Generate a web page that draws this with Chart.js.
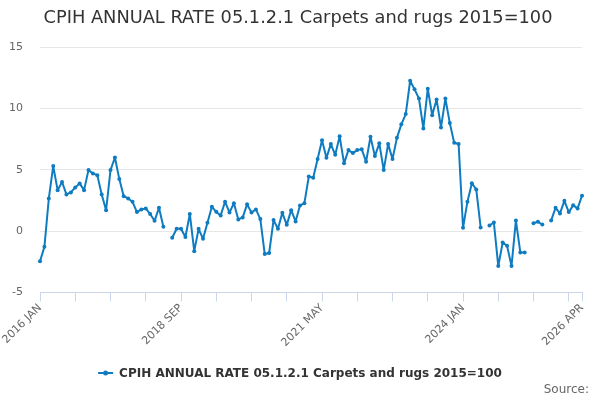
<!DOCTYPE html>
<html>
<head>
<meta charset="utf-8">
<script src="https://cdn.jsdelivr.net/npm/chart.js"></script>
<style>
  body { margin: 0; background: #fff; }
  #wrap { width: 600px; height: 400px; }
</style>
</head>
<body>
<div id="wrap"><canvas id="rateChart" width="600" height="400"></canvas></div>
<script>
const titleText = "CPIH ANNUAL RATE 05.1.2.1 Carpets and rugs 2015=100";
const seriesName = "CPIH ANNUAL RATE 05.1.2.1 Carpets and rugs 2015=100";
const monthNames = ["JAN", "FEB", "MAR", "APR", "MAY", "JUN", "JUL", "AUG", "SEP", "OCT", "NOV", "DEC"];
const startYear = 2016;
const tickLabels = ["2016 JAN", "2018 SEP", "2021 MAY", "2024 JAN", "2026 APR"];
const yTicks = [-5, 0, 5, 10, 15];

const rates = [
  -2.45, -1.28, 2.66, 5.3, 3.34, 4.0, 2.99, 3.15, 3.56, 3.89, 3.34, 4.97,
  4.7, 4.56, 2.99, 1.71, 4.97, 6.0, 4.24, 2.85, 2.66, 2.39, 1.55, 1.77,
  1.85, 1.39, 0.84, 1.9, 0.35, null, -0.54, 0.19, 0.19, -0.48, 1.4, -1.63,
  0.19, -0.63, 0.68, 1.98, 1.57, 1.28, 2.39, 1.52, 2.28, 0.95, 1.12, 2.18,
  1.52, 1.77, 0.98, -1.87, -1.79, 0.9, 0.19, 1.49, 0.51, 1.71, 0.79, 2.08,
  2.28, 4.45, 4.35, 5.87, 7.4, 5.97, 7.09, 6.22, 7.72, 5.52, 6.6, 6.36,
  6.6, 6.68, 5.65, 7.69, 6.11, 7.15, 4.97, 7.09, 5.87, 7.6, 8.7, 9.54,
  12.25, 11.55, 10.8, 8.37, 11.6, 9.45, 10.73, 8.45, 10.8, 8.8, 7.2, 7.1,
  0.27, 2.4, 3.9, 3.4, 0.3, null, 0.46, 0.7, -2.85, -0.93, -1.2, -2.85,
  0.87, -1.74, -1.74, null, 0.65, 0.76, 0.54, null, 0.87, 1.9, 1.44, 2.47,
  1.55, 2.1, 1.85, 2.88
];

// one category per month, same length as the series
const months = rates.map((v, i) =>
  (startYear + Math.floor(i / 12)) + " " + monthNames[i % 12]);

const lineColor = "#0f7cc1";

const extras = {
  id: "extras",
  afterDraw(chart) {
    const ctx = chart.ctx;
    ctx.save();
    // title
    ctx.font = "17.8px 'DejaVu Sans'";
    ctx.fillStyle = "#333333";
    ctx.textAlign = "center";
    ctx.textBaseline = "middle";
    ctx.fillText(titleText, 298, 18);

    // legend
    ctx.font = "bold 12px 'DejaVu Sans'";
    const tw = ctx.measureText(seriesName).width;
    const x0 = 300 - (tw + 21) / 2;
    const ly = 373;
    ctx.strokeStyle = lineColor;
    ctx.lineWidth = 2;
    ctx.beginPath();
    ctx.moveTo(x0, ly);
    ctx.lineTo(x0 + 15, ly);
    ctx.stroke();
    ctx.fillStyle = lineColor;
    ctx.beginPath();
    ctx.arc(x0 + 7.5, ly, 2.5, 0, Math.PI * 2);
    ctx.fill();
    ctx.fillStyle = "#333333";
    ctx.textAlign = "left";
    ctx.fillText(seriesName, x0 + 21, ly + 1);

    // source
    ctx.font = "12px 'DejaVu Sans'";
    ctx.fillStyle = "#666666";
    ctx.textAlign = "right";
    ctx.fillText("Source:", 589, 390);
    ctx.restore();
  },
};

const rateChart = new Chart(document.getElementById("rateChart"), {
  type: "line",
  data: {
    labels: months,
    datasets: [
      {
        label: seriesName,
        data: rates,
        borderColor: lineColor,
        backgroundColor: lineColor,
        borderWidth: 2,
        borderJoinStyle: "round",
        borderCapStyle: "round",
        pointRadius: 2,
        pointHoverRadius: 3,
        pointBackgroundColor: lineColor,
        pointBorderWidth: 0,
        tension: 0,
        spanGaps: false,
      },
    ],
  },
  options: {
    responsive: false,
    animation: false,
    layout: { padding: { top: 47, right: 18, left: 0, bottom: 0 } },
    scales: {
      x: {
        offset: false,
        afterFit(scale) { scale.height = 107.5; },
        border: { color: "#ccd6eb", width: 1 },
        grid: {
          drawOnChartArea: false,
          drawTicks: true,
          tickLength: 9,
          tickColor: (c) =>
            (c.index % 8 === 0 || c.index === months.length - 1) ? "#ccd6eb" : "rgba(0,0,0,0)",
        },
        ticks: {
          autoSkip: false,
          minRotation: 45,
          maxRotation: 45,
          padding: 0,
          color: "#666666",
          font: { family: "DejaVu Sans", size: 11 },
          callback: function (value, index) {
            const lab = months[index];
            return tickLabels.includes(lab) ? lab : "";
          },
        },
      },
      y: {
        min: yTicks[0],
        max: yTicks[yTicks.length - 1],
        afterFit(scale) { scale.width = 40; },
        afterBuildTicks(scale) { scale.ticks = yTicks.map((v) => ({ value: v })); },
        border: { display: false },
        grid: { color: "#e6e6e6", drawTicks: false },
        ticks: {
          padding: 17,
          color: "#666666",
          font: { family: "DejaVu Sans", size: 11 },
        },
      },
    },
    plugins: {
      legend: { display: false },
      title: { display: false },
      tooltip: { enabled: false },
    },
  },
  plugins: [extras],
});
</script>
</body>
</html>
